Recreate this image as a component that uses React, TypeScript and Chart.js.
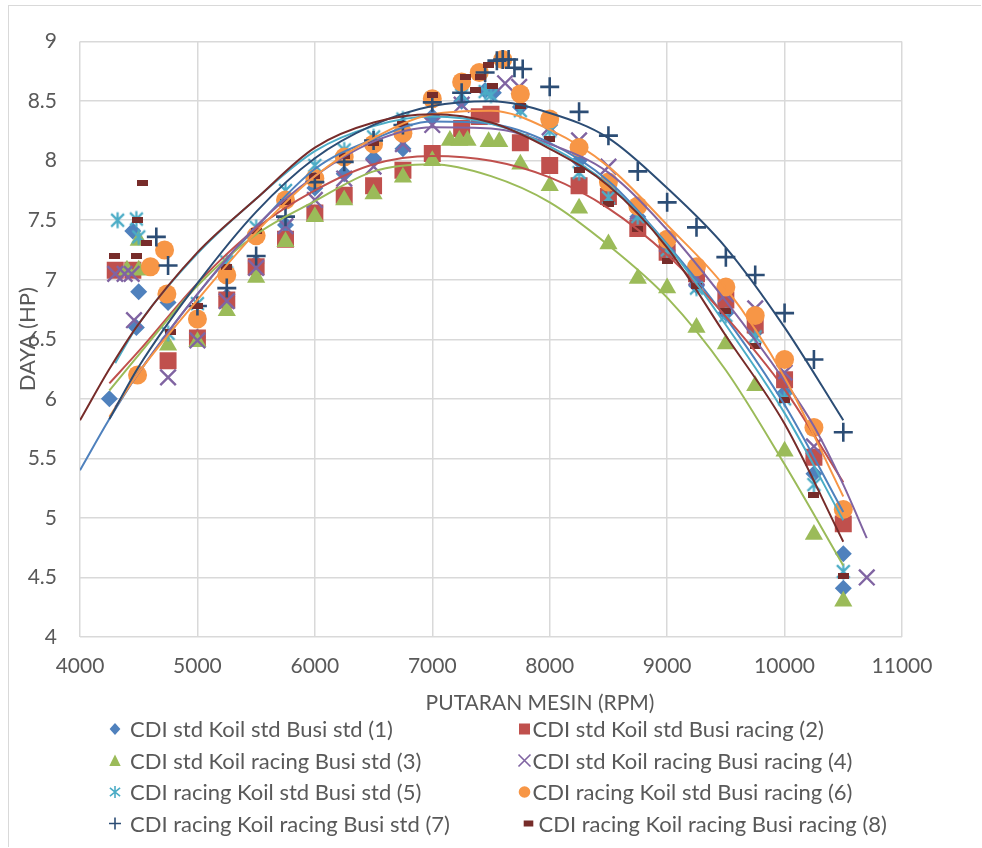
import React, { useEffect, useRef } from 'react';
import { Chart, registerables } from 'chart.js';

Chart.register(...registerables);

const FONT_FAMILY = "Lato, 'Noto Sans', sans-serif";
const TEXT_COLOR = '#595959';
const GRID_COLOR = '#D9D9D9';

const X_MIN = 4000;
const X_MAX = 11000;
const X_STEP = 1000;
const Y_MIN = 4;
const Y_MAX = 9;
const Y_STEP = 0.5;

const X_TITLE = 'PUTARAN MESIN (RPM)';
const Y_TITLE = 'DAYA (HP)';

const seriesNames = [
  'CDI std Koil std Busi std (1)',
  'CDI std Koil std Busi racing (2)',
  'CDI std Koil racing Busi std (3)',
  'CDI std Koil racing Busi racing (4)',
  'CDI racing Koil std Busi std (5)',
  'CDI racing Koil std Busi racing (6)',
  'CDI racing Koil racing Busi std (7)',
  'CDI racing Koil racing Busi racing (8)',
];
const seriesColors = ['#4F81BD', '#C0504D', '#9BBB59', '#8064A2', '#4BACC6', '#F79646', '#2C4D75', '#772C2A'];
const seriesMarkers = ['diamond', 'square', 'triangle', 'x', 'asterisk', 'circle', 'plus', 'dash'];

// ---- measured points ----
const rpm1 = [4250, 4450, 4480, 4500, 4750, 5000, 5250, 5500, 5750, 6000, 6250, 6500, 6750, 7000, 7250, 7450, 7520, 7750, 8000, 8250, 8500, 8750, 9000, 9250, 9500, 9750, 10000, 10250, 10500, 10500];
const hp1 = [6.0, 7.41, 6.6, 6.9, 6.81, 6.52, 6.86, 7.14, 7.46, 7.77, 7.89, 8.02, 8.1, 8.37, 8.5, 8.59, 8.57, 8.45, 8.3, 8.0, 7.72, 7.53, 7.25, 6.95, 6.72, 6.56, 6.05, 5.37, 4.7, 4.41];

const rpm2 = [4300, 4450, 4750, 5000, 5250, 5500, 5750, 6000, 6250, 6500, 6750, 7000, 7250, 7400, 7500, 7750, 8000, 8250, 8500, 8750, 9000, 9250, 9500, 9750, 10000, 10250, 10500];
const hp2 = [7.08, 7.08, 6.32, 6.51, 6.83, 7.11, 7.34, 7.56, 7.71, 7.79, 7.92, 8.06, 8.27, 8.37, 8.39, 8.15, 7.96, 7.79, 7.7, 7.43, 7.23, 7.05, 6.83, 6.62, 6.16, 5.51, 4.95];

const rpm3 = [4400, 4500, 4500, 4750, 5000, 5250, 5500, 5750, 6000, 6250, 6500, 6750, 7000, 7150, 7230, 7300, 7480, 7570, 7750, 8000, 8250, 8500, 8750, 9000, 9250, 9500, 9750, 10000, 10250, 10500];
const hp3 = [7.08, 7.08, 7.33, 6.45, 6.48, 6.74, 7.02, 7.32, 7.53, 7.67, 7.72, 7.86, 8.0, 8.17, 8.17, 8.17, 8.16, 8.16, 7.97, 7.79, 7.6, 7.3, 7.01, 6.93, 6.6, 6.46, 6.11, 5.56, 4.86, 4.3];

const rpm4 = [4300, 4380, 4440, 4460, 4750, 5000, 5250, 5500, 5750, 6000, 6250, 6500, 6750, 7000, 7250, 7620, 7740, 8000, 8250, 8500, 8750, 9000, 9250, 9500, 9750, 10000, 10250, 10700];
const hp4 = [7.05, 7.05, 7.05, 6.66, 6.18, 6.49, 6.82, 7.1, 7.45, 7.67, 7.85, 7.95, 8.14, 8.3, 8.47, 8.65, 8.62, 8.28, 8.17, 7.95, 7.57, 7.3, 7.02, 6.88, 6.76, 6.22, 5.6, 4.5];

const rpm5 = [4320, 4480, 4500, 4750, 5000, 5250, 5500, 5750, 6000, 6250, 6500, 6750, 7000, 7250, 7450, 7500, 7750, 8000, 8250, 8500, 8750, 9000, 9250, 9500, 9750, 10000, 10250, 10500];
const hp5 = [7.5, 7.51, 7.36, 6.55, 6.8, 7.15, 7.44, 7.75, 7.96, 8.09, 8.2, 8.35, 8.52, 8.55, 8.58, 8.55, 8.42, 8.25, 7.9, 7.69, 7.53, 7.25, 6.93, 6.7, 6.52, 6.0, 5.28, 4.55];

const rpm6 = [4490, 4600, 4720, 4740, 5000, 5250, 5500, 5750, 6000, 6250, 6500, 6750, 7000, 7250, 7400, 7600, 7750, 8000, 8250, 8500, 8750, 9000, 9250, 9500, 9750, 10000, 10250, 10500];
const hp6 = [6.2, 7.11, 7.25, 6.88, 6.67, 7.04, 7.37, 7.67, 7.85, 8.03, 8.14, 8.23, 8.52, 8.66, 8.74, 8.85, 8.56, 8.35, 8.11, 7.82, 7.62, 7.34, 7.11, 6.94, 6.7, 6.33, 5.76, 5.07];

const rpm7 = [4650, 4750, 5000, 5250, 5500, 5750, 6000, 6250, 6500, 6750, 7000, 7250, 7450, 7550, 7600, 7650, 7700, 7770, 8000, 8250, 8500, 8750, 9000, 9250, 9500, 9750, 10000, 10250, 10500];
const hp7 = [7.36, 7.12, 6.78, 6.93, 7.2, 7.53, 7.82, 7.99, 8.17, 8.3, 8.49, 8.57, 8.74, 8.84, 8.85, 8.85, 8.78, 8.77, 8.62, 8.41, 8.21, 7.91, 7.65, 7.44, 7.19, 7.04, 6.72, 6.33, 5.72];

const rpm8 = [4290, 4480, 4490, 4535, 4565, 4770, 5000, 5250, 5500, 5750, 6000, 6250, 6500, 6750, 7000, 7280, 7370, 7410, 7480, 7510, 7750, 8000, 8250, 8500, 8750, 9000, 9250, 9500, 9750, 10000, 10250, 10500];
const hp8 = [7.2, 7.2, 7.5, 7.81, 7.31, 6.56, 6.78, 7.11, 7.41, 7.65, 7.87, 8.04, 8.15, 8.31, 8.55, 8.7, 8.59, 8.7, 8.8, 8.63, 8.46, 8.18, 7.92, 7.64, 7.43, 7.16, 6.95, 6.74, 6.44, 5.99, 5.19, 4.51];

// ---- trendlines ----
const trendRpm1 = [4000, 4250, 4500, 5000, 5500, 6000, 6500, 7000, 7500, 8000, 8500, 9000, 9500, 10000, 10500];
const trendHp1 = [5.4, 5.83, 6.22, 6.88, 7.44, 7.93, 8.18, 8.33, 8.31, 8.15, 7.83, 7.3, 6.68, 5.95, 5.05];
const trendRpm2 = [4250, 4500, 5000, 5500, 6000, 6500, 7000, 7500, 8000, 8500, 9000, 9500, 10000, 10500];
const trendHp2 = [6.13, 6.4, 6.97, 7.43, 7.75, 7.97, 8.04, 8.0, 7.86, 7.6, 7.21, 6.69, 6.08, 5.3];
const trendRpm3 = [4250, 4500, 5000, 5500, 6000, 6500, 7000, 7500, 8000, 8500, 9000, 9500, 10000, 10500];
const trendHp3 = [6.07, 6.37, 6.95, 7.38, 7.66, 7.91, 7.97, 7.87, 7.65, 7.29, 6.85, 6.24, 5.45, 4.6];
const trendRpm4 = [4300, 4500, 5000, 5500, 6000, 6500, 7000, 7500, 8000, 8500, 9000, 9500, 10000, 10250, 10500, 10700];
const trendHp4 = [5.93, 6.22, 6.88, 7.45, 7.87, 8.16, 8.28, 8.27, 8.14, 7.9, 7.42, 6.82, 6.15, 5.77, 5.28, 4.83];
const trendRpm5 = [4300, 4500, 5000, 5500, 6000, 6500, 7000, 7500, 8000, 8500, 9000, 9500, 10000, 10500];
const trendHp5 = [6.3, 6.63, 7.22, 7.68, 8.08, 8.29, 8.37, 8.31, 8.12, 7.8, 7.29, 6.62, 5.88, 4.98];
const trendRpm6 = [4250, 4500, 5000, 5500, 6000, 6500, 7000, 7500, 8000, 8500, 9000, 9500, 10000, 10500];
const trendHp6 = [5.85, 6.22, 6.83, 7.4, 7.87, 8.19, 8.39, 8.42, 8.26, 7.95, 7.46, 6.93, 6.18, 5.18];
const trendRpm7 = [4250, 4500, 5000, 5500, 6000, 6500, 7000, 7500, 8000, 8500, 9000, 9500, 10000, 10500];
const trendHp7 = [5.83, 6.27, 6.97, 7.57, 8.02, 8.3, 8.46, 8.5, 8.4, 8.19, 7.77, 7.27, 6.6, 5.82];
const trendRpm8 = [4000, 4250, 4500, 5000, 5500, 6000, 6500, 7000, 7500, 8000, 8500, 9000, 9500, 10000, 10500];
const trendHp8 = [5.82, 6.25, 6.63, 7.23, 7.68, 8.11, 8.32, 8.39, 8.32, 8.1, 7.79, 7.27, 6.53, 5.79, 4.8];

const pointRpm = [rpm1, rpm2, rpm3, rpm4, rpm5, rpm6, rpm7, rpm8];
const pointHp = [hp1, hp2, hp3, hp4, hp5, hp6, hp7, hp8];
const trendRpm = [trendRpm1, trendRpm2, trendRpm3, trendRpm4, trendRpm5, trendRpm6, trendRpm7, trendRpm8];
const trendHp = [trendHp1, trendHp2, trendHp3, trendHp4, trendHp5, trendHp6, trendHp7, trendHp8];

// layout (canvas px)
const LEGEND_ROWS_Y = [723, 754.5, 786, 817.5];
const LEGEND_MARK_X = [106, 515.5];
const LEGEND_TEXT_X = [121, 523.5];

function drawMarker(ctx: CanvasRenderingContext2D, kind: string, x: number, y: number, color: string, s: number) {
  ctx.save();
  ctx.fillStyle = color;
  ctx.strokeStyle = color;
  ctx.lineCap = 'butt';
  ctx.beginPath();
  switch (kind) {
    case 'diamond':
      ctx.moveTo(x, y - s); ctx.lineTo(x + s * 0.9, y); ctx.lineTo(x, y + s); ctx.lineTo(x - s * 0.9, y); ctx.closePath(); ctx.fill();
      break;
    case 'square':
      ctx.fillRect(x - s, y - s, 2 * s, 2 * s);
      break;
    case 'triangle':
      ctx.moveTo(x, y - s); ctx.lineTo(x + s * 0.95, y + s * 0.9); ctx.lineTo(x - s * 0.95, y + s * 0.9); ctx.closePath(); ctx.fill();
      break;
    case 'x':
      ctx.lineWidth = 1.6;
      ctx.moveTo(x - s, y - s); ctx.lineTo(x + s, y + s); ctx.moveTo(x + s, y - s); ctx.lineTo(x - s, y + s); ctx.stroke();
      break;
    case 'asterisk':
      ctx.lineWidth = 1.6;
      ctx.moveTo(x - s * 0.85, y - s * 0.7); ctx.lineTo(x + s * 0.85, y + s * 0.7);
      ctx.moveTo(x + s * 0.85, y - s * 0.7); ctx.lineTo(x - s * 0.85, y + s * 0.7);
      ctx.moveTo(x, y - s); ctx.lineTo(x, y + s); ctx.stroke();
      break;
    case 'circle':
      ctx.arc(x, y, s, 0, Math.PI * 2); ctx.fill();
      break;
    case 'plus':
      ctx.lineWidth = 1.6;
      ctx.moveTo(x - s, y); ctx.lineTo(x + s, y); ctx.moveTo(x, y - s); ctx.lineTo(x, y + s); ctx.stroke();
      break;
    case 'dash':
      ctx.fillRect(x - s * 0.8, y - s * 0.5, s * 1.6, s);
      break;
  }
  ctx.restore();
}

function makeMarkerCanvas(kind: string, color: string, w: number, h: number, s: number, lw: number) {
  const c = document.createElement('canvas');
  c.width = w; c.height = h;
  const ctx = c.getContext('2d') as CanvasRenderingContext2D;
  ctx.fillStyle = color;
  ctx.strokeStyle = color;
  ctx.lineWidth = lw;
  const cx = w / 2, cy = h / 2;
  ctx.beginPath();
  if (kind === 'asterisk') {
    ctx.moveTo(cx - s * 0.8, cy - s * 0.8); ctx.lineTo(cx + s * 0.8, cy + s * 0.8);
    ctx.moveTo(cx + s * 0.8, cy - s * 0.8); ctx.lineTo(cx - s * 0.8, cy + s * 0.8);
    ctx.moveTo(cx, cy - s); ctx.lineTo(cx, cy + s);
    ctx.stroke();
  } else if (kind === 'dash') {
    ctx.fillRect(0, 0, w, h);
  }
  return c;
}

const legendPlugin = {
  id: 'excelLegend',
  afterDraw(chart: any) {
    const ctx: CanvasRenderingContext2D = chart.ctx;
    ctx.save();
    ctx.font = `22px ${FONT_FAMILY}`;
    ctx.fillStyle = TEXT_COLOR;
    ctx.textBaseline = 'middle';
    ctx.textAlign = 'left';
    seriesNames.forEach((name, i) => {
      const col = i % 2;
      const row = Math.floor(i / 2);
      const y = LEGEND_ROWS_Y[row];
      const shift = i === 7 ? 4 : 0;
      const mx = LEGEND_MARK_X[col] + shift;
      const size = seriesMarkers[i] === 'square' ? 5.5 : seriesMarkers[i] === 'circle' ? 5.8 : 6;
      drawMarker(ctx, seriesMarkers[i], mx, y, seriesColors[i], size);
      ctx.fillStyle = TEXT_COLOR;
      ctx.fillText(name, LEGEND_TEXT_X[col] + shift * 1.5, y + 1);
    });
    // x axis title
    ctx.font = `21px ${FONT_FAMILY}`;
    ctx.textAlign = 'center';
    ctx.fillText(X_TITLE, 531, 697);
    ctx.restore();
  },
};

export default function App() {
  const ref = useRef<HTMLCanvasElement>(null);

  useEffect(() => {
    const canvas = ref.current;
    if (!canvas) return;

    const asteriskImg = makeMarkerCanvas('asterisk', seriesColors[4], 19, 19, 8, 2.2);
    const dashImg = makeMarkerCanvas('dash', seriesColors[7], 11, 6, 0, 0);

    const styleFor = (i: number): any => {
      switch (seriesMarkers[i]) {
        case 'diamond': return { pointStyle: 'rectRot', radius: 8.5, borderWidth: 0 };
        case 'square': return { pointStyle: 'rect', radius: 12, borderWidth: 0 };
        case 'triangle': return { pointStyle: 'triangle', radius: 10.5, borderWidth: 0 };
        case 'x': return { pointStyle: 'crossRot', radius: 11, borderWidth: 2.4 };
        case 'asterisk': return { pointStyle: asteriskImg, radius: 8, borderWidth: 0 };
        case 'circle': return { pointStyle: 'circle', radius: 9.5, borderWidth: 0 };
        case 'plus': return { pointStyle: 'cross', radius: 9.5, borderWidth: 2.6 };
        default: return { pointStyle: dashImg, radius: 6, borderWidth: 0 };
      }
    };

    const pointSets = seriesNames.map((name, i) => {
      const st = styleFor(i);
      return {
        label: name,
        data: pointRpm[i].map((x, j) => ({ x, y: pointHp[i][j] })),
        showLine: false,
        pointStyle: st.pointStyle,
        pointRadius: st.radius,
        pointHoverRadius: st.radius,
        pointBackgroundColor: seriesColors[i],
        pointBorderColor: seriesColors[i],
        pointBorderWidth: st.borderWidth,
        backgroundColor: seriesColors[i],
        borderColor: seriesColors[i],
        order: 30 - i,
      };
    });

    const trendSets = seriesNames.map((name, i) => ({
      label: name + ' trend',
      data: trendRpm[i].map((x, j) => ({ x, y: trendHp[i][j] })),
      showLine: true,
      fill: false,
      borderColor: seriesColors[i],
      backgroundColor: seriesColors[i],
      borderWidth: 2,
      pointRadius: 0,
      pointHoverRadius: 0,
      cubicInterpolationMode: 'monotone',
      order: 10 - i,
    }));

    const chart = new Chart(canvas, {
      type: 'scatter',
      data: { datasets: [...pointSets, ...trendSets] as any },
      options: {
        animation: false,
        responsive: true,
        maintainAspectRatio: false,
        devicePixelRatio: 1,
        events: [],
        layout: { padding: { top: 35, right: 79, bottom: 150, left: 0 } },
        plugins: {
          legend: { display: false },
          tooltip: { enabled: false },
          title: { display: false },
        },
        scales: {
          x: {
            type: 'linear',
            min: X_MIN,
            max: X_MAX,
            ticks: {
              stepSize: X_STEP,
              color: TEXT_COLOR,
              font: { family: FONT_FAMILY, size: 21 },
              padding: 17,
              maxRotation: 0,
              autoSkip: false,
              callback: (v: any) => String(v),
            },
            grid: { color: GRID_COLOR, lineWidth: 1.5, drawTicks: false },
            border: { display: false },
            afterFit: (s: any) => { s.height = 60; },
          },
          y: {
            type: 'linear',
            min: Y_MIN,
            max: Y_MAX,
            ticks: {
              stepSize: Y_STEP,
              color: TEXT_COLOR,
              font: { family: FONT_FAMILY, size: 21 },
              padding: 23,
              callback: (v: any) => String(v),
            },
            grid: { color: GRID_COLOR, lineWidth: 1.5, drawTicks: false },
            border: { display: false },
            title: {
              display: true,
              text: Y_TITLE,
              color: TEXT_COLOR,
              font: { family: FONT_FAMILY, size: 22 },
              padding: { top: 6, bottom: 0 },
            },
            afterFit: (s: any) => { s.width = 71; },
          },
        },
      },
      plugins: [legendPlugin],
    } as any);

    return () => chart.destroy();
  }, []);

  return (
    <div
      style={{
        position: 'fixed',
        left: 8,
        top: 5,
        width: 972,
        height: 841,
        borderTop: '1px solid #D9D9D9',
        borderLeft: '1px solid #D9D9D9',
        background: '#ffffff',
      }}
    >
      <canvas ref={ref} />
    </div>
  );
}
